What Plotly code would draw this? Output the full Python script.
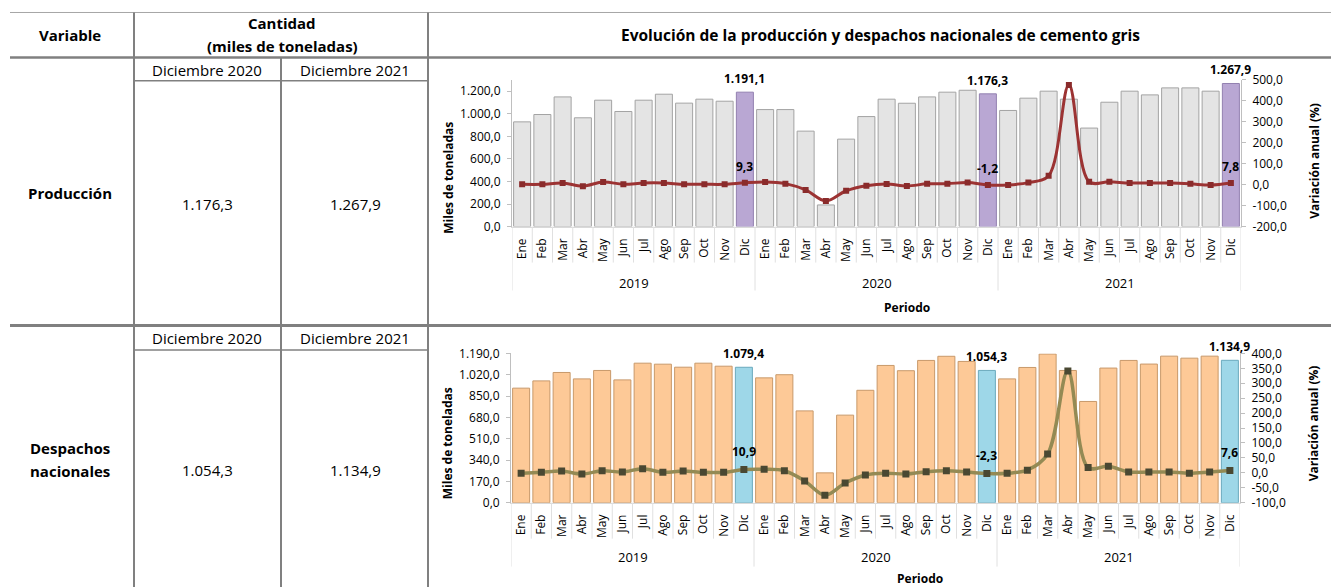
import plotly.graph_objects as go

# ---------------- data ----------------
meses = ["Ene", "Feb", "Mar", "Abr", "May", "Jun", "Jul", "Ago", "Sep", "Oct", "Nov", "Dic"]
anios = ["2019", "2020", "2021"]

produccion = [928, 993, 1149, 964, 1120, 1020, 1120, 1173, 1094, 1129, 1111, 1191.1,
              1037, 1037, 846, 192, 775, 975, 1129, 1093, 1149, 1191, 1208, 1176.3,
              1029, 1138, 1200, 1129, 873, 1102, 1200, 1167, 1229, 1229, 1200, 1267.9]
var_produccion = [2, 2, 8, -7, 13, 2, 8, 8, 2, 2, 2, 9.3,
                  13, 5, -25, -78, -29, -5, 3, -6, 4, 5, 10, -1.2,
                  -1, 10, 43, 475, 14, 14, 8, 8, 8, 4, -2, 7.8]

despachos = [913, 971, 1038, 987, 1054, 979, 1112, 1104, 1080, 1112, 1088, 1079.4,
             995, 1020, 732, 238, 698, 896, 1094, 1052, 1134, 1167, 1126, 1054.3,
             987, 1078, 1185, 1054, 807, 1073, 1134, 1105, 1168, 1152, 1168, 1134.9]
var_despachos = [-1, 2, 6, -4, 7, 3, 14, 2, 6, 2, 2, 10.9,
                 12, 7, -27, -75, -34, -7, -1, -4, 4, 7, 3, -2.3,
                 -1, 9, 63, 341, 18, 22, 3, 3, 3, -1, 3, 7.6]

ticks_prod = [0, 200, 400, 600, 800, 1000, 1200]
ticks_var_prod = [-200, -100, 0, 100, 200, 300, 400, 500]
ticks_desp = [0, 170, 340, 510, 680, 850, 1020, 1190]
ticks_var_desp = [-100, -50, 0, 50, 100, 150, 200, 250, 300, 350, 400]

titulo = "Evolución de la producción y despachos nacionales de cemento gris"

# ---------------- helpers ----------------
W, H = 1331, 587
FONT = "Open Sans"


def px(x):
    return x / W


def py(y):
    # page is shown 8px down and at 571px effective height
    return 1 - (y - 8) / 571.0


def es(v, d=1):
    s = f"{v:,.{d}f}"
    return s.replace(",", "X").replace(".", ",").replace("X", ".")


n = len(produccion)
xs = list(range(n))
ticktext = meses * len(anios)
is_dic = [m == "Dic" for m in ticktext]

GRAY, GRAY_L = "#E4E4E4", "#A3A3A3"
PURP, PURP_L = "#B9A7D3", "#9280B0"
ORNG, ORNG_L = "#FDC997", "#C8996A"
BLUE, BLUE_L = "#9ED7E8", "#6AA9BD"
RED, RED_M = "#9C3333", "#8A2B2B"
OLIVE, OLIVE_M = "#948A54", "#4A4832"

fig = go.Figure()

fig.add_trace(go.Bar(
    x=xs, y=produccion, xaxis="x", yaxis="y", showlegend=False,
    marker=dict(color=[PURP if d else GRAY for d in is_dic],
                line=dict(color=[PURP_L if d else GRAY_L for d in is_dic], width=1)),
))
fig.add_trace(go.Scatter(
    x=xs, y=var_produccion, xaxis="x", yaxis="y2", showlegend=False,
    mode="lines+markers",
    line=dict(color=RED, width=3, shape="spline", smoothing=1),
    marker=dict(symbol="square", size=6, color=RED_M),
))
fig.add_trace(go.Bar(
    x=xs, y=despachos, xaxis="x2", yaxis="y3", showlegend=False,
    marker=dict(color=[BLUE if d else ORNG for d in is_dic],
                line=dict(color=[BLUE_L if d else ORNG_L for d in is_dic], width=1)),
))
fig.add_trace(go.Scatter(
    x=xs, y=var_despachos, xaxis="x2", yaxis="y4", showlegend=False,
    mode="lines+markers",
    line=dict(color=OLIVE, width=3.5, shape="spline", smoothing=1),
    marker=dict(symbol="square", size=7, color=OLIVE_M),
))

tickfont = dict(family=FONT, size=12, color="#000000")
xcommon = dict(range=[-0.5, n - 0.5], tickmode="array", tickvals=xs, ticktext=ticktext,
               tickangle=-90, tickfont=tickfont, showline=True, linecolor="#D9D9D9",
               ticks="", showgrid=False, zeroline=False, ticklabelstandoff=6, fixedrange=True)
ycommon = dict(showgrid=False, zeroline=False, showline=True, linecolor="#BFBFBF",
               ticks="outside", ticklen=4, tickcolor="#BFBFBF", tickfont=tickfont,
               ticklabelstandoff=4, fixedrange=True)

fig.update_layout(
    width=W, height=H, margin=dict(l=0, r=0, t=0, b=0),
    paper_bgcolor="white", plot_bgcolor="white",
    font=dict(family=FONT, color="#000000"),
    bargap=0.16, hovermode=False,
    xaxis=dict(domain=[px(512), px(1241)], anchor="y", **xcommon),
    yaxis=dict(domain=[py(226), py(79)], anchor="x", range=[0, 1300],
               tickvals=ticks_prod, ticktext=[es(v) for v in ticks_prod], **ycommon),
    yaxis2=dict(overlaying="y", side="right", anchor="x", range=[-200, 500],
                tickvals=ticks_var_prod, ticktext=[es(v) for v in ticks_var_prod], **ycommon),
    xaxis2=dict(domain=[px(511), px(1240)], anchor="y3", **xcommon),
    yaxis3=dict(domain=[py(502.6), py(353)], anchor="x2", range=[0, 1190],
                tickvals=ticks_desp, ticktext=[es(v) for v in ticks_desp], **ycommon),
    yaxis4=dict(overlaying="y3", side="right", anchor="x2", range=[-100, 400],
                tickvals=ticks_var_desp, ticktext=[es(v) for v in ticks_var_desp], **ycommon),
)

shapes = []
ann = []


def hline(y, x0, x1, w=2, c="#808080"):
    shapes.append(dict(type="line", xref="paper", yref="paper", x0=px(x0), x1=px(x1),
                       y0=py(y), y1=py(y), line=dict(color=c, width=w)))


def vline(x, y0, y1, w=2, c="#808080"):
    shapes.append(dict(type="line", xref="paper", yref="paper", x0=px(x), x1=px(x),
                       y0=py(y0), y1=max(py(y1), -0.05), line=dict(color=c, width=w)))


def text(x, y, t, size=15, bold=False, angle=0):
    ann.append(dict(xref="paper", yref="paper", x=px(x), y=py(y), text=f"<b>{t}</b>" if bold else t,
                    showarrow=False, xanchor="center", yanchor="middle", textangle=angle,
                    font=dict(family=FONT, size=size, color="#000000")))


# table grid
hline(11.5, 10, 1331, w=1, c="#A6A6A6")
hline(56.5, 10, 1331, w=2.5)
hline(325, 10, 1331, w=3)
hline(80, 134, 428, w=1.5)
hline(349.5, 134, 428, w=1.5)
vline(134, 11.5, 600)
vline(428, 11.5, 600)
vline(281, 56.5, 600)

# table text
text(70, 34, "Variable", bold=True)
text(282, 22, "Cantidad", bold=True)
text(282, 45, "(miles de toneladas)", bold=True)
text(880, 34, titulo, size=15.5, bold=True)
for yy in (69, 338):
    text(207, yy, "Diciembre 2020")
    text(355, yy, "Diciembre 2021")
text(70, 192, "Producción", bold=True)
text(207, 203, es(produccion[23]))
text(355, 203, es(produccion[35]))
text(70, 448, "Despachos", bold=True)
text(70, 471, "nacionales", bold=True)
text(207, 470, es(despachos[23]))
text(355, 470, es(despachos[35]))

# chart axis titles
text(449, 177, "Miles de toneladas", size=12, bold=True, angle=-90)
text(1315, 160, "Variación anual (%)", size=12, bold=True, angle=-90)
text(907, 307, "Periodo", size=12, bold=True)
text(447, 443, "Miles de toneladas", size=12, bold=True, angle=-90)
text(1313, 423, "Variación anual (%)", size=12, bold=True, angle=-90)
text(920, 578, "Periodo", size=12, bold=True)

# category separators & year labels
for xr, base, yl in (("x", 226, 282), ("x2", 502.6, 557)):
    for i in range(n + 1):
        long_ = i % 12 == 0
        shapes.append(dict(type="line", xref=xr, yref="paper", x0=i - 0.5, x1=i - 0.5,
                           y0=py(base), y1=py(base + (64 if long_ else 36)),
                           line=dict(color="#E0E0E0", width=1)))
    for k, a in enumerate(anios):
        ann.append(dict(xref=xr, yref="paper", x=k * 12 + 5.5, y=py(yl), text=a, showarrow=False,
                        xanchor="center", yanchor="middle",
                        font=dict(family=FONT, size=13, color="#000000")))

# data labels on December points
for i in range(n):
    if not is_dic[i]:
        continue
    ann.append(dict(xref="x", yref="y", x=i, y=produccion[i], text=f"<b>{es(produccion[i])}</b>",
                    showarrow=False, yanchor="bottom", yshift=3,
                    font=dict(family=FONT, size=12, color="#000000")))
    ann.append(dict(xref="x", yref="y2", x=i, y=var_produccion[i], text=f"<b>{es(var_produccion[i])}</b>",
                    showarrow=False, yanchor="bottom", yshift=6,
                    font=dict(family=FONT, size=12, color="#000000")))
    ann.append(dict(xref="x2", yref="y3", x=i, y=despachos[i], text=f"<b>{es(despachos[i])}</b>",
                    showarrow=False, yanchor="bottom", yshift=3,
                    font=dict(family=FONT, size=12, color="#000000")))
    ann.append(dict(xref="x2", yref="y4", x=i, y=var_despachos[i], text=f"<b>{es(var_despachos[i])}</b>",
                    showarrow=False, yanchor="bottom", yshift=8,
                    font=dict(family=FONT, size=12, color="#000000")))

fig.update_layout(shapes=shapes, annotations=ann)

fig.write_html("out.html", config={"displayModeBar": False},
               post_script="document.body.style.margin='0';document.body.style.overflow='hidden';")
